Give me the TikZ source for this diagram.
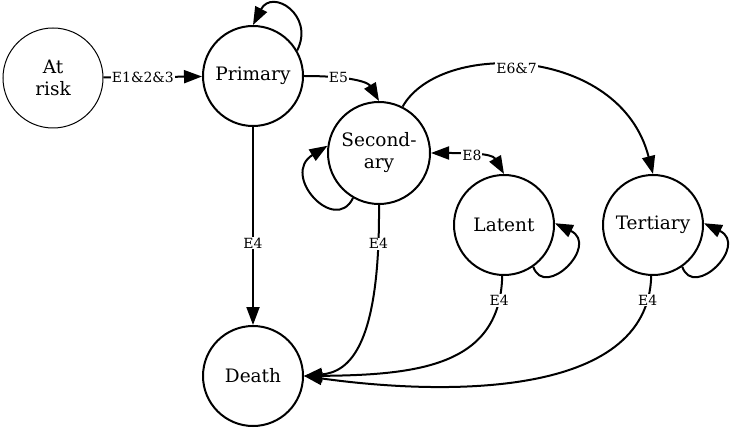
\documentclass[tikz,border=0pt]{standalone}
\usepackage{fontspec}
\setmainfont{DejaVu Serif}
\usetikzlibrary{arrows.meta}
\begin{document}
\begin{tikzpicture}[x=1pt,y=-1pt,
  state/.style={circle,draw,line width=2pt,minimum size=100pt,inner sep=0pt,align=center,font=\fontsize{18.5}{22}\selectfont},
  thin state/.style={state,line width=1pt},
  tip/.style={},
  edge/.style={line width=2pt,-{Triangle[length=18pt,width=13pt]}},
  lbl/.style={fill=white,inner sep=1pt,font=\fontsize{14}{16}\selectfont}]
\useasboundingbox (0,0) rectangle (730,430);
\node[thin state] (risk) at (53,78) {At\\risk};
\node[state] (pri) at (253,76) {Primary};
\node[state,minimum size=102pt] (sec) at (379,153) {Second-\\ary};
\node[state] (lat) at (504,225) {Latent};
\node[state] (ter) at (653,225) {Tertiary};
\node[state] (death) at (253,376) {Death};
% At risk -> Primary
\draw[edge] (risk) -- node[lbl,pos=0.4] {E1\&2\&3} (pri);
% Primary self loop
\draw[edge] (pri.30) .. controls (315,15) and (272,-12) .. (pri.90);
% Primary -> Secondary
\draw[edge] (pri.east) .. controls (350,76) and (368,82) .. node[lbl,pos=0.3] {E5} (sec.north);
% Primary -> Death
\draw[edge] (pri) -- node[lbl,pos=0.585] {E4} (death);
% Secondary -> Tertiary
\draw[edge] (sec.63) .. controls (440,40) and (620,45) .. node[lbl,pos=0.46,yshift=-3pt] {E6\&7} (ter.north);
% Secondary self loop
\draw[edge] (sec.240) .. controls (335,235) and (280,175) .. (sec.172);
% Secondary <-> Latent
\draw[line width=2pt,{Triangle[length=18pt,width=13pt]}-{Triangle[length=18pt,width=13pt]}] (sec.east) .. controls (465,153) and (492,153) .. node[lbl,pos=0.45] {E8} (lat.north);
% Secondary -> Death
\draw[edge] (sec.south) .. controls (380,345) and (350,372) .. node[lbl,pos=0.1] {E4} (death.east);
% Latent self loop
\draw[edge] (lat.-55) .. controls (545,300) and (600,245) .. (lat.2);
% Tertiary self loop
\draw[edge] (ter.-55) .. controls (694,300) and (749,245) .. (ter.2);
% Latent -> Death
\draw[edge] (lat.-92) .. controls (500,365) and (420,375) .. node[lbl,pos=0.1] {E4} (death.east);
% Tertiary -> Death
\draw[edge] (ter.-92) .. controls (648,400) and (440,395) .. node[lbl,pos=0.07] {E4} (death.east);
\end{tikzpicture}
\end{document}
